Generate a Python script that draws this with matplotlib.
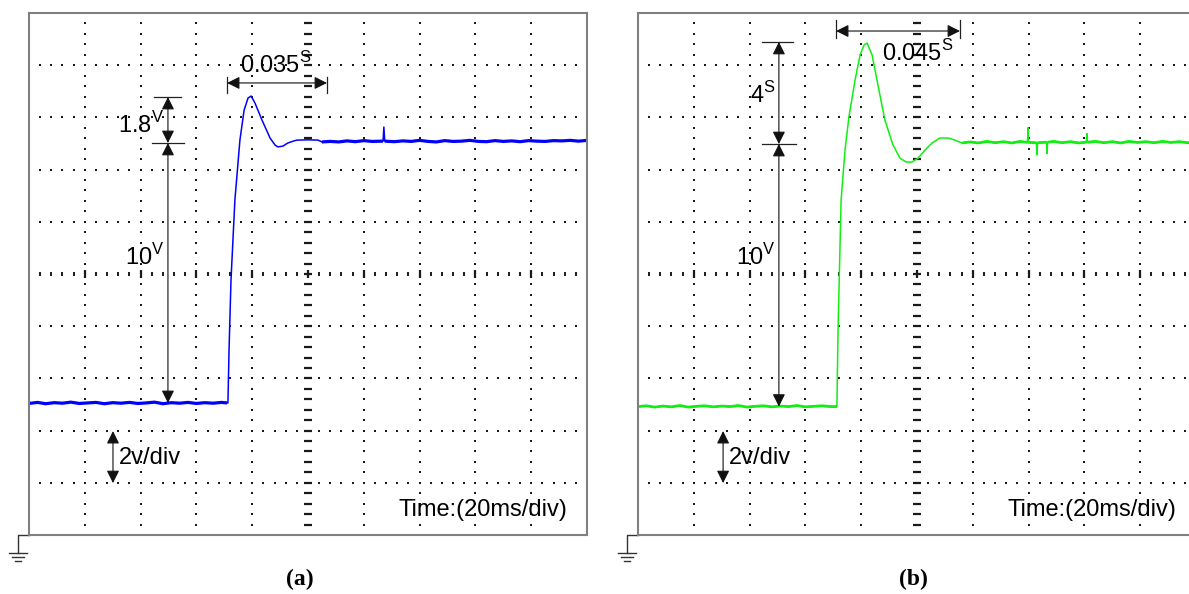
import matplotlib
matplotlib.use("Agg")
import matplotlib.pyplot as plt
import numpy as np

plt.rcParams['font.family'] = ['Liberation Sans', 'DejaVu Sans']

# ---- trace data (time in ms, voltage in V) ----
a_time = [0, 3, 6, 9, 12, 15, 18, 21, 24, 27, 30, 33, 36, 39, 42, 45, 48, 51, 54, 57, 60, 63, 66, 69, 71,
          71.3, 71.7, 72.4, 73.8, 75.6, 77.1, 78.5, 79.6, 81.0, 83.5, 86.4, 88.2, 89.2, 91.0, 92.8, 95.0,
          96.1, 100, 103.6, 105,
          108, 111, 114, 117, 120, 123, 126.9, 127.2, 127.5, 131, 134, 137, 140, 143, 146, 149, 152, 155,
          158, 161, 164, 167, 170, 173, 176, 179, 182, 185, 188, 191, 194, 197, 200]
a_volt = [5.04, 5.08, 5.03, 5.07, 5.05, 5.09, 5.04, 5.06, 5.08, 5.03, 5.07, 5.05, 5.08, 5.04, 5.06, 5.09,
          5.03, 5.07, 5.05, 5.08, 5.04, 5.07, 5.05, 5.08, 5.06,
          5.06, 7.09, 9.77, 12.84, 15.13, 16.28, 16.74, 16.82, 16.55, 15.9, 15.21, 14.94, 14.87, 14.9,
          15.02, 15.1, 15.13, 15.14, 15.13, 15.06,
          15.08, 15.06, 15.10, 15.07, 15.11, 15.08, 15.09, 15.63, 15.09, 15.07, 15.10, 15.08, 15.12, 15.08,
          15.06, 15.11, 15.08, 15.09, 15.12, 15.08, 15.07, 15.11, 15.08, 15.10, 15.07, 15.11, 15.09, 15.08,
          15.11, 15.10, 15.12, 15.09, 15.12]

b_time = [0, 3, 6, 9, 12, 15, 18, 21, 24, 27, 30, 33, 36, 39, 42, 45, 48, 51, 54, 57, 60, 63, 66, 69, 71.3,
          71.7, 72.8, 74.2, 75.6, 77.8, 79.6, 81.0, 82.1, 83.9, 86.0, 88.5, 91.4, 93.9, 96.1, 98.2, 100.4,
          102.9, 105.4, 108.2, 111.1, 113.6, 116.1,
          119, 122, 125, 128, 131, 134, 137, 139.6, 139.8, 140.0, 142.8, 143.0, 143.2, 146.4, 146.6, 146.8,
          149, 152, 155, 158, 160.7, 160.9, 161.1, 164, 167, 170, 173, 176, 179, 182, 185, 188, 191, 194,
          197, 200]
b_volt = [4.92, 4.95, 4.90, 4.94, 4.91, 4.96, 4.90, 4.93, 4.95, 4.91, 4.94, 4.92, 4.96, 4.90, 4.93, 4.95,
          4.91, 4.94, 4.92, 4.96, 4.91, 4.93, 4.95, 4.92, 4.92,
          7.85, 12.84, 14.75, 16.02, 17.43, 18.39, 18.77, 18.85, 18.39, 17.24, 15.9, 14.94, 14.44, 14.29,
          14.29, 14.44, 14.75, 15.02, 15.21, 15.21, 15.13, 15.02,
          15.06, 15.02, 15.08, 15.03, 15.07, 15.02, 15.08, 15.04, 15.60, 15.04, 15.03, 14.56, 15.03, 15.05,
          14.62, 15.05, 15.08, 15.03, 15.07, 15.02, 15.05, 15.38, 15.05, 15.08, 15.03, 15.07, 15.02, 15.08,
          15.04, 15.07, 15.03, 15.08, 15.04, 15.07, 15.03, 15.06]

# annotation readings
a_rise_time = 0.035
b_rise_time = 0.045
a_overshoot = 1.8
b_overshoot = 4
step_size = 10

fig = plt.figure(figsize=(11.89, 5.94), dpi=100)
W, H = 1189, 594
ax_a = fig.add_axes([29 / W, 59 / H, 558 / W, 522 / H])
ax_b = fig.add_axes([638 / W, 59 / H, 558 / W, 522 / H])
FS = 17


def draw_screen(ax):
    ax.set_xlim(0, 200)
    ax.set_ylim(0, 20)
    ax.set_xticks([])
    ax.set_yticks([])
    for s in ax.spines.values():
        s.set_color('#808080')
        s.set_linewidth(1.5)
    dot = dict(ls='none', marker='s', ms=1.6, mew=0, color='#1a1a1a', zorder=1)
    minor_y = np.arange(0.4, 20, 0.4)
    minor_x = np.arange(4, 200, 4)
    for k in range(1, 10):
        if k == 5:
            continue
        ax.plot(np.full_like(minor_y, 20 * k), minor_y, **dot)
        ax.plot(minor_x, np.full_like(minor_x, 2 * k), **dot)
    # centre axes drawn with small tick marks
    ax.plot(np.full_like(minor_y, 100), minor_y, ls='none', marker='_', ms=5.5, mew=1.6,
            color='#1a1a1a', zorder=1)
    ax.plot(minor_x, np.full_like(minor_x, 10), ls='none', marker='|', ms=3, mew=1.4,
            color='#1a1a1a', zorder=1)
    major_x = np.arange(20, 200, 20)
    ax.plot(major_x, np.full_like(major_x, 10), ls='none', marker='|', ms=6, mew=1.6,
            color='#1a1a1a', zorder=1)
    ax.plot([100], [10], ls='none', marker='s', ms=1.6, mew=0, color='#1a1a1a')
    # ground symbol
    gx = -3.94
    ax.plot([0, gx, gx], [0, 0, -0.69], color='#333333', lw=1, clip_on=False)
    for half, yy in [(3.1, -0.69), (2.0, -0.84), (1.1, -0.99)]:
        ax.plot([gx - half, gx + half], [yy, yy], color='#333333', lw=1, clip_on=False)
    ax.text(192.8, 0.96, 'Time:(20ms/div)', ha='right', va='center', fontsize=FS, zorder=3)


def arrow(ax, x0, y0, x1, y1):
    ax.annotate('', xy=(x1, y1), xytext=(x0, y0),
                arrowprops=dict(arrowstyle='<|-|>', color='#111111', lw=0.8,
                                mutation_scale=19, shrinkA=0, shrinkB=0))


def hline(ax, x0, x1, y):
    ax.plot([x0, x1], [y, y], color='#222222', lw=0.9)


sup = r'$^{\mathregular{%s}}$'

for ax in (ax_a, ax_b):
    draw_screen(ax)

# panel (a)
ax_a.plot(a_time, a_volt, color='#0000ff', lw=1.1)
for sl in (slice(0, 25), slice(44, 52), slice(53, None)):
    ax_a.plot(a_time[sl], a_volt[sl], color='#0000ff', lw=2.3, solid_capstyle='butt')
arrow(ax_a, 71.0, 17.32, 106.8, 17.32)
ax_a.plot([71.0, 71.0], [16.93, 17.55], color='#222222', lw=0.9)
ax_a.plot([106.8, 106.8], [16.93, 17.55], color='#222222', lw=0.9)
ax_a.text(75.6, 17.7, f'{a_rise_time:.3f}' + sup % 'S', ha='left', va='baseline', fontsize=FS)
hline(ax_a, 44.8, 54.5, 16.78)
hline(ax_a, 44.1, 55.6, 15.02)
arrow(ax_a, 49.8, 16.78, 49.8, 15.02)
ax_a.text(48.4, 15.4, f'{a_overshoot:.1f}' + sup % 'V', ha='right', va='baseline', fontsize=FS)
arrow(ax_a, 49.8, 15.02, 49.8, 5.06)
ax_a.text(48.4, 10.34, f'{step_size}' + sup % 'V', ha='right', va='baseline', fontsize=FS)
arrow(ax_a, 30.1, 3.98, 30.1, 1.99)
ax_a.text(32.3, 2.95, '2v/div', ha='left', va='center', fontsize=FS, zorder=3)

# panel (b)
ax_b.plot(b_time, b_volt, color='#11ee11', lw=1.1)
for sl in (slice(0, 25), slice(46, 55), slice(56, 58), slice(59, 61), slice(62, 68), slice(69, None)):
    ax_b.plot(b_time[sl], b_volt[sl], color='#11ee11', lw=2.0, solid_capstyle='butt')
arrow(ax_b, 71.0, 19.31, 115.4, 19.31)
ax_b.plot([71.0, 71.0], [19.04, 19.73], color='#222222', lw=0.9)
ax_b.plot([115.4, 115.4], [19.04, 19.73], color='#222222', lw=0.9)
ax_b.text(87.3, 18.16, f'{b_rise_time:.3f}' + sup % 'S', ha='left', va='baseline', fontsize=FS)
hline(ax_b, 44.4, 55.6, 18.89)
hline(ax_b, 44.4, 56.6, 14.98)
arrow(ax_b, 50.5, 18.89, 50.5, 14.98)
ax_b.text(49.5, 16.55, f'{b_overshoot}' + sup % 'S', ha='right', va='baseline', fontsize=FS)
arrow(ax_b, 50.5, 14.98, 50.5, 4.92)
ax_b.text(49.1, 10.34, f'{step_size}' + sup % 'V', ha='right', va='baseline', fontsize=FS)
arrow(ax_b, 30.5, 3.98, 30.5, 1.99)
ax_b.text(32.6, 2.95, '2v/div', ha='left', va='center', fontsize=FS, zorder=3)

fig.text(300 / W, 1 - 579 / H, '(a)', ha='center', va='center', fontsize=17,
         fontweight='bold', family='Liberation Serif')
fig.text(913 / W, 1 - 579 / H, '(b)', ha='center', va='center', fontsize=17,
         fontweight='bold', family='Liberation Serif')

fig.savefig('out.png', dpi=100)
